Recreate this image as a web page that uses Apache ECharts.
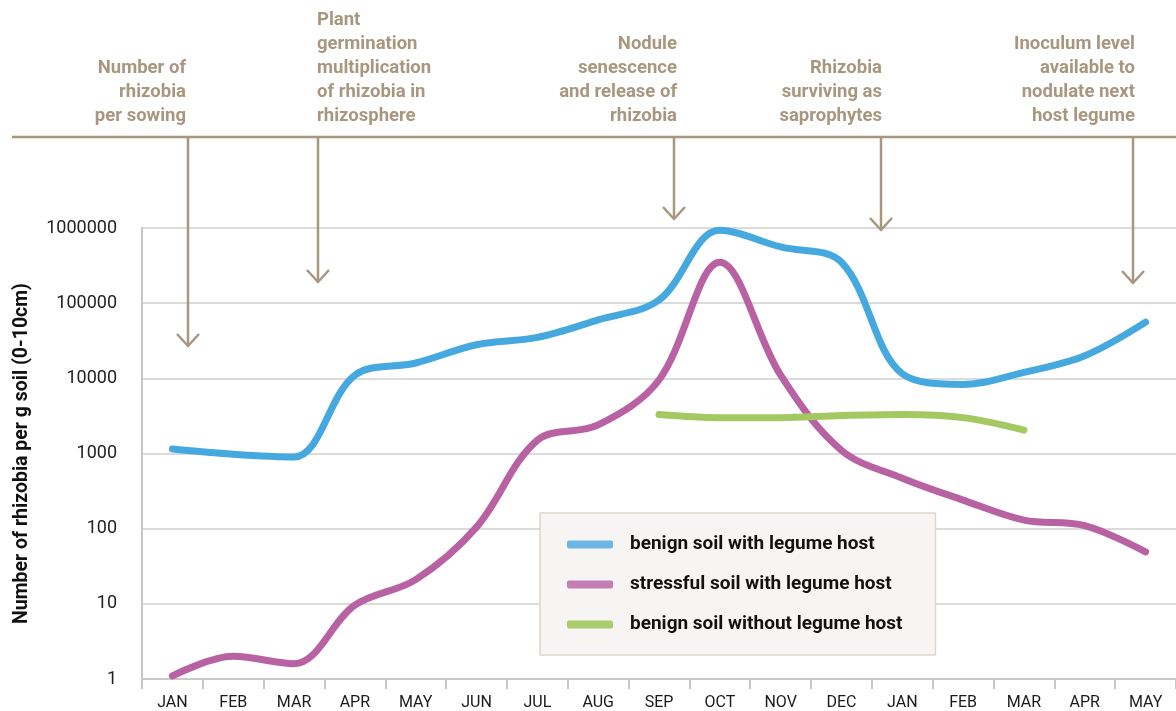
<!DOCTYPE html>
<html>
<head>
<meta charset="utf-8">
<script src="https://cdn.jsdelivr.net/npm/echarts@6/dist/echarts.min.js"></script>
<style>
html,body{margin:0;padding:0;background:#fff;}
#chart{width:1176px;height:711px;}
</style>
</head>
<body>
<div id="chart"></div>
<script>
const months = ['JAN','FEB','MAR','APR','MAY','JUN','JUL','AUG','SEP','OCT','NOV','DEC','JAN','FEB','MAR','APR','MAY'];
const benignWithHost = [1150, 980, 900, 11000, 16000, 28000, 35000, 60000, 110000, 930000, 560000, 350000, 11500, 8300, 12000, 20000, 56000];
const stressfulWithHost = [1.1, 2.0, 1.6, 9.6, 21, 105, 1500, 2400, 9500, 350000, 11000, 1100, 470, 240, 130, 110, 49];
const benignWithoutHost = [null, null, null, null, null, null, null, null, 3300, 3000, 3000, 3200, 3300, 3000, 2050, null, null];
const seriesNames = ['benign soil with legume host', 'stressful soil with legume host', 'benign soil without legume host'];
const yTicks = [1, 10, 100, 1000, 10000, 100000, 1000000];
const annotations = [
  {lines: ['Number of', 'rhizobia', 'per sowing'], align: 'right'},
  {lines: ['Plant', 'germination', 'multiplication', 'of rhizobia in', 'rhizosphere'], align: 'left'},
  {lines: ['Nodule', 'senescence', 'and release of', 'rhizobia'], align: 'right'},
  {lines: ['Rhizobia', 'surviving as', 'saprophytes'], align: 'right'},
  {lines: ['Inoculum level', 'available to', 'nodulate next', 'host legume'], align: 'right'}
];

const colors = ['#45a9e0', '#b862a3', '#a4c962'];
const brown = '#a8977e';
const annFont = '"Roboto", sans-serif';

// layout of the annotation band (decoration, not data)
const annLayout = [
  {textX: 186, arrowX: 188, tip: 346},
  {textX: 317, arrowX: 318, tip: 282},
  {textX: 677, arrowX: 674, tip: 219},
  {textX: 882, arrowX: 881, tip: 230},
  {textX: 1135, arrowX: 1133, tip: 283}
];
const bandY = 137;
const lineH = 24;

const graphics = [];
graphics.push({type: 'line', shape: {x1: 12, y1: bandY, x2: 1176, y2: bandY}, style: {stroke: brown, lineWidth: 2.5}, z: 10});
annotations.forEach((a, i) => {
  const L = annLayout[i];
  const n = a.lines.length;
  a.lines.forEach((t, j) => {
    graphics.push({
      type: 'text',
      style: {
        text: t, x: L.textX, y: bandY - 21 - (n - 1 - j) * lineH,
        textAlign: a.align, textVerticalAlign: 'middle',
        fill: brown, fontSize: 18.5, fontWeight: 'bold', fontFamily: annFont
      }, z: 10
    });
  });
  graphics.push({type: 'line', shape: {x1: L.arrowX, y1: bandY, x2: L.arrowX, y2: L.tip}, style: {stroke: brown, lineWidth: 2.5}, z: 10});
  graphics.push({type: 'polyline', shape: {points: [[L.arrowX - 11, L.tip - 12], [L.arrowX, L.tip], [L.arrowX + 11, L.tip - 12]]}, style: {stroke: brown, lineWidth: 2.5, fill: null}, z: 10});
});

const chart = echarts.init(document.getElementById('chart'), null, {renderer: 'canvas'});
const mk = (name, data, c, lc) => ({
  name, type: 'line', data, smooth: 0.35, symbol: 'none', connectNulls: false,
  lineStyle: {color: c, width: 7, cap: 'round', join: 'round'},
  itemStyle: {color: lc}
});
chart.setOption({
  animation: false,
  backgroundColor: '#fff',
  grid: {left: 142, right: 0, top: 228, bottom: 32, containLabel: false},
  xAxis: {
    type: 'category', data: months, boundaryGap: true,
    axisLine: {lineStyle: {color: '#c8c8c8', width: 2}},
    axisTick: {show: true, length: 10, interval: 0, lineStyle: {color: '#c8c8c8', width: 2}},
    axisLabel: {interval: 0, margin: 16, color: '#1a1a1a', fontSize: 16, fontFamily: annFont}
  },
  yAxis: {
    type: 'log', logBase: 10, min: 1, max: 1000000,
    name: 'Number of rhizobia per g soil (0-10cm)',
    nameLocation: 'middle', nameGap: 110, nameRotate: 90,
    nameTextStyle: {color: '#111', fontSize: 19.5, fontWeight: 'bold', fontFamily: '"Roboto", sans-serif'},
    axisLine: {show: true, lineStyle: {color: '#c8c8c8', width: 2}},
    axisTick: {show: false},
    splitLine: {show: true, lineStyle: {color: '#cfcfcf', width: 1.5}},
    axisLabel: {
      color: '#222', fontSize: 18, margin: 25, fontFamily: '"Roboto", sans-serif',
      formatter: v => {
        const r = Math.round(v);
        return yTicks.indexOf(r) >= 0 ? String(r) : '';
      }
    }
  },
  legend: {
    show: true, orient: 'vertical', left: 540, top: 513,
    data: seriesNames,
    icon: 'roundRect', itemWidth: 46, itemHeight: 8, itemGap: 21,
    backgroundColor: '#f6f5f3', borderColor: '#ddd6cc', borderWidth: 1.5,
    padding: [22, 33, 21, 27],
    textStyle: {color: '#111', fontSize: 19, fontWeight: 'bold', fontFamily: '"Roboto", sans-serif', padding: [0, 0, 0, 12]},
    selectedMode: false
  },
  series: [
    mk(seriesNames[0], benignWithHost, colors[0], '#6db7e6'),
    mk(seriesNames[1], stressfulWithHost, colors[1], '#c47db5'),
    mk(seriesNames[2], benignWithoutHost, colors[2], '#a9cc6c')
  ],
  graphic: graphics
});
</script>
</body>
</html>
